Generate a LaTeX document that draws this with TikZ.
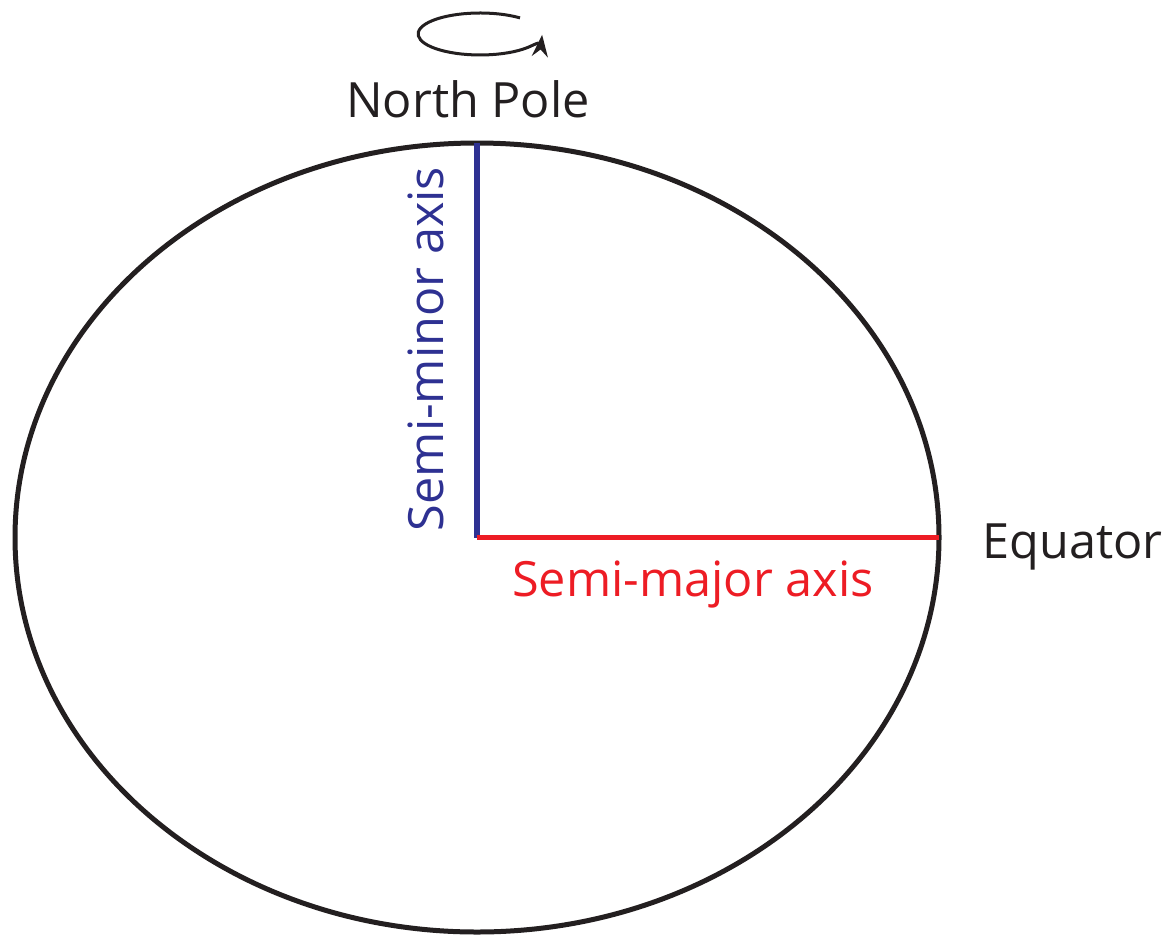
\documentclass[tikz,border=0pt]{standalone}
\usepackage{fontspec}
\setmainfont{Open Sans}
\usetikzlibrary{shapes.geometric,arrows.meta}
\definecolor{axisblue}{HTML}{2E3192}
\definecolor{axisred}{HTML}{ED1C24}
\definecolor{inkblack}{HTML}{231F20}
\tikzset{
  lbl/.style={font=\fontsize{24.3}{28}\selectfont, inner sep=0pt, text=inkblack},
  axisline/.style={line width=2.7pt},
}
\begin{document}
\begin{tikzpicture}[x=0.5pt,y=-0.5pt]
\useasboundingbox (0,0) rectangle (1165,937);
\node[ellipse, draw=inkblack, line width=2.5pt, minimum width=462pt, minimum height=394.5pt, inner sep=0pt, outer sep=0pt] (earth) at (477,537.5) {};
\draw[axisline, axisblue] (earth.center) -- (earth.north);
\draw[axisline, axisred] (earth.center) -- (earth.east);
\node[lbl, anchor=base] (np) at (468,117) {North Pole};
\node[lbl, anchor=base west] (eq) at (982,558) {Equator};
\node[lbl, anchor=base, text=axisred] (major) at (693,596) {Semi-major axis};
\node[lbl, anchor=base, text=axisblue, rotate=90] (minor) at (443,349) {Semi-minor axis};
\coordinate (rotstart) at (520,17.9);
\draw[inkblack, line width=1.5pt, -{Stealth[length=11pt,width=8pt]}] (rotstart) arc[start angle=-50, end angle=-358, x radius=62, y radius=21];
\end{tikzpicture}
\end{document}
